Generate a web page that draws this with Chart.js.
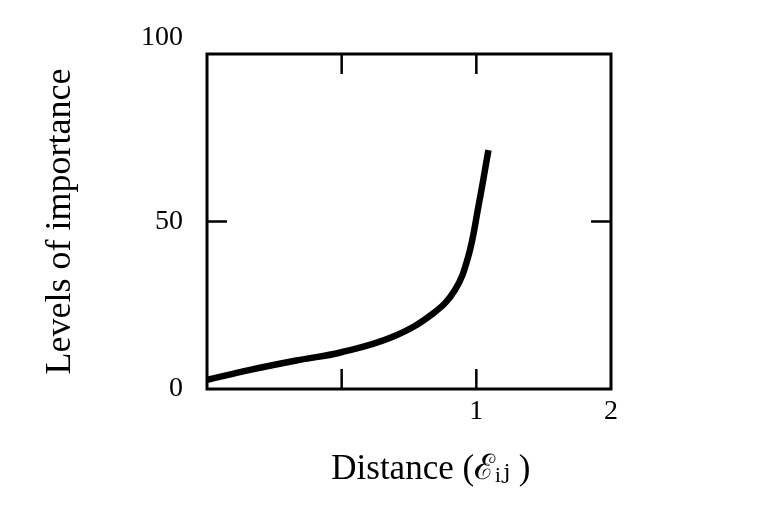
<!DOCTYPE html>
<html>
<head>
<meta charset="utf-8">
<script src="https://cdn.jsdelivr.net/npm/chart.js@4"></script>
<style>
  html, body { margin: 0; padding: 0; background: #fff; }
  #wrap { width: 776px; height: 510px; }
</style>
</head>
<body>
<div id="wrap"><canvas id="chart" width="776" height="510"></canvas></div>
<script>
// curve (distance, level of importance)
const distance = [-1.0, -0.68, -0.31, -0.01, 0.38, 0.68, 0.84, 0.94, 1.015, 1.09];
const importance = [2.7, 5.7, 8.7, 10.9, 15.6, 22.6, 29.5, 39.5, 54.4, 71.3];

const xTicks = [-1, 0, 1, 2];
const xTickLabels = ["", "", "1", "2"];
const yTicks = [0, 50, 100];
// top label sits above the frame in the original, hence the empty second line
const yTickLabels = ["0", "50", ["100", ""]];

const points = distance.map((d, i) => ({ x: d, y: importance[i] }));

const serif = "'Liberation Serif', 'DejaVu Serif', serif";

// frame + inward tick marks like the printed figure
const framePlugin = {
  id: "frame",
  afterDatasetsDraw(chart) {
    const { ctx, chartArea: a, scales } = chart;
    ctx.save();
    ctx.strokeStyle = "#000";
    ctx.lineWidth = 3;
    ctx.strokeRect(a.left, a.top, a.right - a.left, a.bottom - a.top);
    ctx.lineWidth = 2.5;
    const len = 20;
    xTicks.forEach(v => {
      const px = scales.x.getPixelForValue(v);
      if (px <= a.left + 1 || px >= a.right - 1) return;
      ctx.beginPath();
      ctx.moveTo(px, a.bottom); ctx.lineTo(px, a.bottom - len);
      ctx.moveTo(px, a.top); ctx.lineTo(px, a.top + len);
      ctx.stroke();
    });
    yTicks.forEach(v => {
      const py = scales.y.getPixelForValue(v);
      if (py <= a.top + 1 || py >= a.bottom - 1) return;
      ctx.beginPath();
      ctx.moveTo(a.left, py); ctx.lineTo(a.left + len, py);
      ctx.moveTo(a.right, py); ctx.lineTo(a.right - len, py);
      ctx.stroke();
    });
    ctx.restore();
  }
};

new Chart(document.getElementById("chart"), {
  type: "line",
  data: {
    datasets: [{
      data: points,
      borderColor: "#000",
      borderWidth: 6.5,
      pointRadius: 0,
      tension: 0.4,
      fill: false,
      borderCapStyle: "butt"
    }]
  },
  options: {
    responsive: false,
    animation: false,
    layout: { padding: { top: 54, right: 165, bottom: 0, left: 0 } },
    plugins: { legend: { display: false }, tooltip: { enabled: false } },
    scales: {
      x: {
        type: "linear",
        min: -1,
        max: 2,
        afterBuildTicks: s => { s.ticks = xTicks.map(v => ({ value: v })); },
        afterFit: s => { s.height = 121; s.paddingLeft = 0; s.paddingRight = 0; },
        grid: { display: false, drawTicks: false },
        border: { display: false },
        ticks: {
          padding: 6,
          color: "#000",
          font: { family: serif, size: 28 },
          callback: v => xTickLabels[xTicks.indexOf(v)]
        },
        title: {
          display: true,
          text: "     Distance (ℰᵢⱼ )",
          color: "#000",
          font: { family: serif, size: 35 },
          padding: { top: 0, bottom: 19 }
        }
      },
      y: {
        min: 0,
        max: 100,
        afterBuildTicks: s => { s.ticks = yTicks.map(v => ({ value: v })); },
        afterFit: s => { s.width = 207; s.paddingTop = 0; s.paddingBottom = 0; },
        grid: { display: false, drawTicks: false },
        border: { display: false },
        ticks: {
          padding: 24,
          color: "#000",
          font: { family: serif, size: 28 },
          callback: v => yTickLabels[yTicks.indexOf(v)]
        },
        title: {
          display: true,
          text: "Levels of importance",
          color: "#000",
          font: { family: serif, size: 36 },
          padding: { top: 39, bottom: 0 }
        }
      }
    }
  },
  plugins: [framePlugin]
});
</script>
</body>
</html>
